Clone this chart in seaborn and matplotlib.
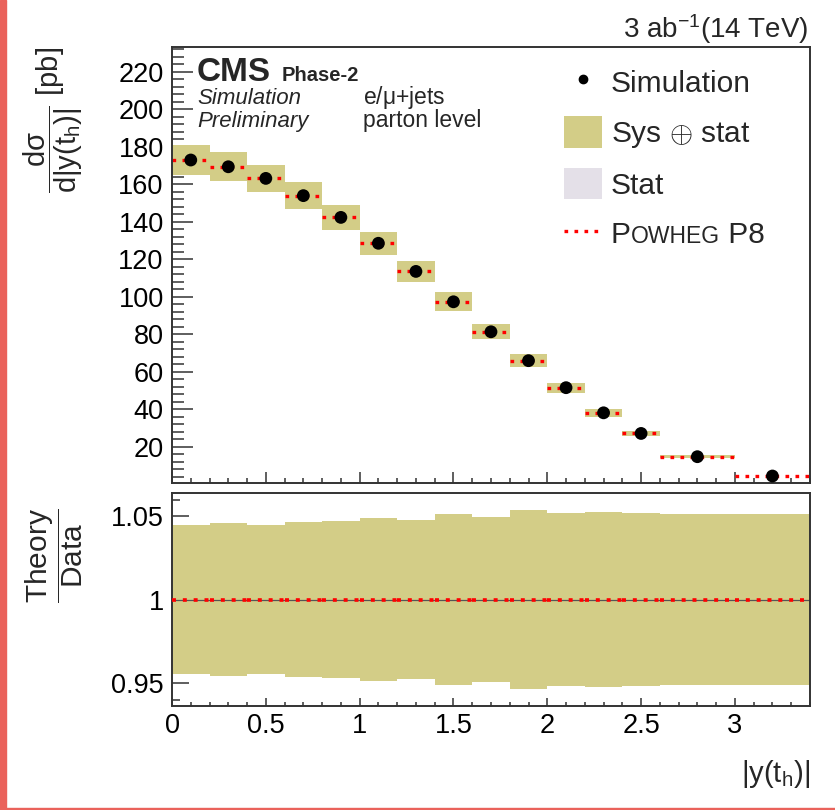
import numpy as np
import matplotlib
matplotlib.use('Agg')
import matplotlib.pyplot as plt
import seaborn as sns
import pandas as pd
from matplotlib.patches import Patch, Rectangle
from matplotlib.lines import Line2D
from matplotlib.ticker import MultipleLocator

# bins in |y(t_h)|
bin_edges = [0.0, 0.2, 0.4, 0.6, 0.8, 1.0, 1.2, 1.4, 1.6, 1.8, 2.0, 2.2, 2.4, 2.6, 3.0, 3.4]
# simulated cross section [pb]
sim_xsec = [172.9, 169.3, 163.1, 153.9, 142.3, 128.5, 113.5, 97.3, 81.3, 65.9, 51.5, 38.1, 27.1, 14.7, 4.4]
# powheg + pythia8 prediction [pb]
powheg_xsec = [172.9, 169.3, 163.1, 153.9, 142.3, 128.5, 113.5, 97.3, 81.3, 65.9, 51.5, 38.1, 27.1, 14.7, 4.4]
# relative total uncertainty (sys + stat)
rel_tot = [0.0448, 0.0457, 0.0447, 0.0464, 0.0471, 0.0487, 0.0477, 0.0512, 0.0495,
           0.0535, 0.0518, 0.0524, 0.0518, 0.0512, 0.0512]

edges = np.array(bin_edges)
df = pd.DataFrame({
    'lo': edges[:-1], 'hi': edges[1:],
    'xsec': sim_xsec, 'theory': powheg_xsec, 'rel': rel_tot,
})
df['center'] = 0.5 * (df.lo + df.hi)
df['width'] = df.hi - df.lo
df['err'] = df.xsec * df.rel
df['ratio'] = df.theory / df.xsec

olive = '#d3cd87'
lavender = '#e4e0e8'
red = '#ff0000'
frame = '#333333'
dots = (0, (1.1, 1.9))

sns.set_theme(style='ticks')
plt.rcParams['font.family'] = ['Liberation Sans', 'DejaVu Sans']
plt.rcParams['mathtext.fontset'] = 'custom'
plt.rcParams['mathtext.rm'] = 'Liberation Sans'
plt.rcParams['mathtext.it'] = 'Liberation Sans'
plt.rcParams['mathtext.bf'] = 'Liberation Sans:bold'

fig = plt.figure(figsize=(8.35, 8.10), dpi=100)
ax = fig.add_axes([0.206, 0.4033, 0.764, 0.5390])
rx = fig.add_axes([0.206, 0.128, 0.764, 0.2634])

# ---- main panel
ax.bar(df.lo, 2 * df.err, bottom=df.xsec - df.err, width=df.width, align='edge',
       color=olive, edgecolor='none', zorder=1)
ax.hlines(df.theory, df.lo, df.hi, colors=red, linewidth=2.4, linestyles=dots, zorder=2)
sns.scatterplot(data=df, x='center', y='xsec', ax=ax, color='black', s=85,
                edgecolor='none', zorder=3, legend=False)

ax.set_xlim(0, 3.4)
ax.set_ylim(0.5, 233.3)
ax.yaxis.set_minor_locator(MultipleLocator(4))
ax.set_yticks(np.arange(20, 221, 20))
ax.xaxis.set_major_locator(MultipleLocator(0.5))
ax.xaxis.set_minor_locator(MultipleLocator(0.1))
ax.set_xticklabels([])
ax.set_xlabel('')
ax.set_ylabel(r'$\dfrac{\mathrm{d}\sigma}{\mathrm{d|y(t_{h})|}}$ [pb]', fontsize=21, loc='top')
ax.yaxis.set_label_coords(-0.136, 1.0)

# ---- ratio panel
rx.bar(df.lo, 2 * df.rel, bottom=1 - df.rel, width=df.width, align='edge',
       color=olive, edgecolor='none', zorder=1)
rx.axhline(1.0, color='#555555', linewidth=0.9, zorder=2)
rx.hlines(df.ratio, df.lo, df.hi, colors=red, linewidth=2.6, linestyles=dots, zorder=3)
rx.set_xlim(0, 3.4)
rx.set_ylim(0.936, 1.064)
rx.set_yticks([0.95, 1.0, 1.05])
rx.set_yticklabels(['0.95', '1', '1.05'])
rx.yaxis.set_minor_locator(MultipleLocator(0.01))
rx.xaxis.set_minor_locator(MultipleLocator(0.1))
rx.set_xticks([0, 0.5, 1, 1.5, 2, 2.5, 3])
rx.set_xticklabels(['0', '0.5', '1', '1.5', '2', '2.5', '3'])
rx.set_xlabel(r'|y(t$_{\mathrm{h}}$)|', fontsize=21, loc='right')
rx.xaxis.set_label_coords(1.0, -0.24)
rx.set_ylabel(r'$\dfrac{\mathrm{Theory}}{\mathrm{Data}}$', fontsize=21.5, loc='top')
rx.yaxis.set_label_coords(-0.136, 0.93)

for a in (ax, rx):
    for s in a.spines.values():
        s.set_color(frame)
        s.set_linewidth(1.4)
    a.tick_params(which='both', direction='in', top=False, right=False,
                  colors=frame, width=1.1, labelcolor='black', labelsize=19.5)
ax.tick_params(axis='y', which='major', length=15, pad=6)
ax.tick_params(axis='y', which='minor', length=8.5)
ax.tick_params(axis='x', which='major', length=7.7)
ax.tick_params(axis='x', which='minor', length=3.6)
rx.tick_params(axis='y', which='major', length=12, pad=6)
rx.tick_params(axis='y', which='minor', length=6)
rx.tick_params(axis='x', which='major', length=5.5, pad=5)
rx.tick_params(axis='x', which='minor', length=3)

# ---- legend
handles = [
    Line2D([], [], marker='o', color='black', linestyle='none', markersize=6),
    Patch(facecolor=olive, edgecolor='none'),
    Patch(facecolor=lavender, edgecolor='none'),
    Line2D([], [], color=red, linewidth=2.4, linestyle=dots),
]
labels = ['Simulation', r'Sys $\oplus$ stat', 'Stat', 'P']
leg_fs = 21.5
sc_fs = 16.5
leg = ax.legend(handles, labels, loc='upper left', bbox_to_anchor=(0.615, 0.955),
                frameon=False, fontsize=leg_fs, handlelength=1.25, handleheight=1.25,
                handletextpad=0.3, labelspacing=0.6, borderpad=0, borderaxespad=0)
ptxt = leg.get_texts()[3]
owh = ax.annotate('OWHEG', xy=(1, 0), xycoords=ptxt, xytext=(0.5, (leg_fs - sc_fs) * 0.212),
                  textcoords='offset points', va='bottom', ha='left', fontsize=sc_fs, zorder=7)
ax.annotate(' P8', xy=(1, 0), xycoords=owh, xytext=(0, (sc_fs - leg_fs) * 0.212),
            textcoords='offset points', va='bottom', ha='left', fontsize=leg_fs, zorder=8)

# ---- labels
fig.text(0.236, 0.9, 'CMS', fontsize=24, fontweight='bold', va='baseline')
fig.text(0.337, 0.9, 'Phase-2', fontsize=14.5, fontweight='bold', va='baseline')
fig.text(0.236, 0.871, 'Simulation', fontsize=16, style='italic', va='baseline')
fig.text(0.236, 0.843, 'Preliminary', fontsize=16, style='italic', va='baseline')
fig.text(0.435, 0.871, r'e/$\mu$+jets', fontsize=16.5, va='baseline')
fig.text(0.435, 0.843, 'parton level', fontsize=16.5, va='baseline')
fig.text(0.968, 0.953, r'3 ab$^{\mathregular{-1}}$(14 TeV)', fontsize=20, ha='right', va='baseline')

# screenshot border
fig.add_artist(Rectangle((0, 0), 6 / 835, 1, transform=fig.transFigure, color='#ea625b', zorder=0))
fig.add_artist(Rectangle((0, 0), 1, 2 / 810, transform=fig.transFigure, color='#ea625b', zorder=0))

fig.savefig('out.png', dpi=100)
